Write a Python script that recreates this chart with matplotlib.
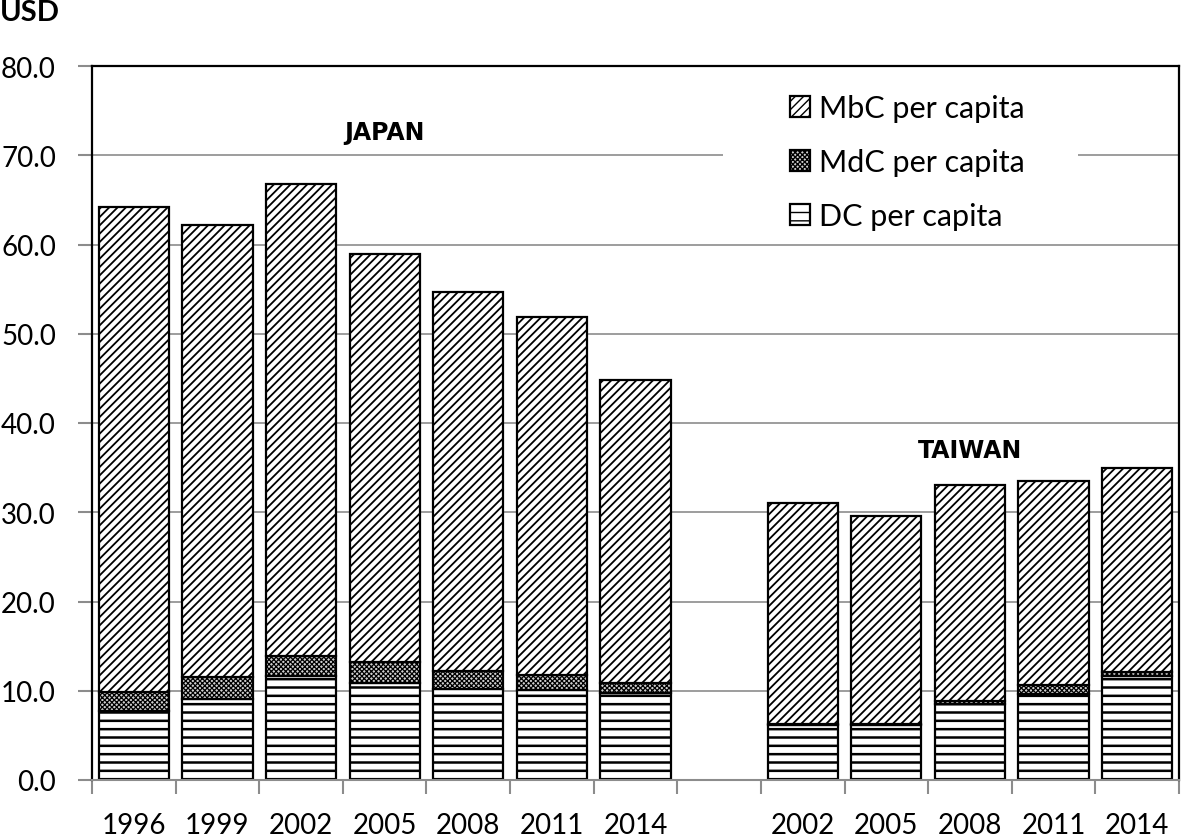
import numpy as np
import matplotlib
matplotlib.use("Agg")
import matplotlib.pyplot as plt
import matplotlib.transforms as mtransforms
from matplotlib.patches import Rectangle

plt.rcParams["font.family"] = ["Lato", "DejaVu Sans"]

# Japan survey years and per-capita values (USD)
jp_years = ["1996", "1999", "2002", "2005", "2008", "2011", "2014"]
jp_dc = [7.7, 9.1, 11.6, 10.9, 10.2, 10.1, 9.8]
jp_mdc = [2.2, 2.4, 2.3, 2.3, 2.0, 1.7, 1.1]
jp_mbc = [54.3, 50.7, 52.9, 45.7, 42.5, 40.1, 33.9]

# Taiwan
tw_years = ["2002", "2005", "2008", "2011", "2014"]
tw_dc = [6.2, 6.2, 8.5, 9.6, 11.6]
tw_mdc = [0.1, 0.1, 0.4, 1.0, 0.5]
tw_mbc = [24.7, 23.3, 24.2, 22.9, 22.9]

series_names = ["MbC per capita", "MdC per capita", "DC per capita"]

GRID = "#8c8c8c"

fig = plt.figure(figsize=(11.82, 8.37), dpi=100)
ax = fig.add_axes([92 / 1182, 56 / 837, 1087 / 1182, 714 / 837])

# one empty slot between the two countries
x_jp = np.arange(len(jp_years))
x_tw = np.arange(len(tw_years)) + len(jp_years) + 1
x = np.concatenate([x_jp, x_tw])
dc = np.array(jp_dc + tw_dc)
mdc = np.array(jp_mdc + tw_mdc)
mbc = np.array(jp_mbc + tw_mbc)
labels = jp_years + tw_years

W = 0.84


def stacked(vals, bottom, hatch, hlw, face="white"):
    with plt.rc_context({"hatch.linewidth": hlw}):
        bars = ax.bar(x, vals, W, bottom=bottom, color=face,
                      edgecolor="black", linewidth=1.6, hatch=hatch, zorder=2)
    for p in bars:
        if hasattr(p, "set_hatch_linewidth"):
            p.set_hatch_linewidth(hlw)
    return bars


b_dc = stacked(dc, 0, "--", 1.8)
b_mdc = stacked(mdc, dc, "xxxxxxx", 0.9, face="#d0d0d0")
b_mbc = stacked(mbc, dc + mdc, "////", 1.3)

ax.set_xlim(-0.5, len(labels) + 0.5)
ax.set_ylim(0, 80)
ax.set_yticks(np.arange(0, 81, 10))
ax.set_yticklabels([f"{v:.1f}" for v in np.arange(0, 81, 10)], fontsize=20)

# ticks at slot boundaries, labels at bar centres
ax.set_xticks(np.arange(-0.5, len(labels) + 1, 1.0))
ax.set_xticklabels([])
ax.set_xticks(x, minor=True)
ax.set_xticklabels(labels, minor=True, fontsize=20)
ax.tick_params(axis="x", which="major", length=10, width=1.5, color=GRID,
               direction="out")
ax.tick_params(axis="x", which="minor", length=0, pad=23)
ax.tick_params(axis="y", length=10, width=1.5, color=GRID, pad=16)

ax.yaxis.grid(True, color=GRID, linewidth=1.2)
ax.set_axisbelow(True)
for s in ("left", "top", "right"):
    ax.spines[s].set_color("black")
    ax.spines[s].set_linewidth(1.6)
ax.spines["bottom"].set_color(GRID)
ax.spines["bottom"].set_linewidth(1.5)

ax.text(3.0, 72.6, "JAPAN", ha="center", va="center", fontsize=17,
        fontweight="bold", family=["Liberation Sans Narrow", "DejaVu Sans"])
ax.text(10.0, 37.0, "TAIWAN", ha="center", va="center", fontsize=17,
        fontweight="bold", family=["Liberation Sans Narrow", "DejaVu Sans"])

# legend background only hides the 70 gridline (like the Excel legend box)
trans = mtransforms.blended_transform_factory(ax.transAxes, ax.transData)
ax.add_patch(Rectangle((0.5805, 66), 0.3265, 8, transform=trans,
                       facecolor="white", edgecolor="none", zorder=1))

leg = ax.legend([b_mbc, b_mdc, b_dc], series_names, loc="center right",
                bbox_to_anchor=(0.858, 0.865), borderaxespad=0, fontsize=22,
                frameon=False, borderpad=0, handlelength=0.65,
                handleheight=0.65, handletextpad=0.3, labelspacing=0.85)

fig.text(0.0, 1.0, "USD", ha="left", va="top", fontsize=21, fontweight="bold")

fig.savefig("out.png", dpi=100)
